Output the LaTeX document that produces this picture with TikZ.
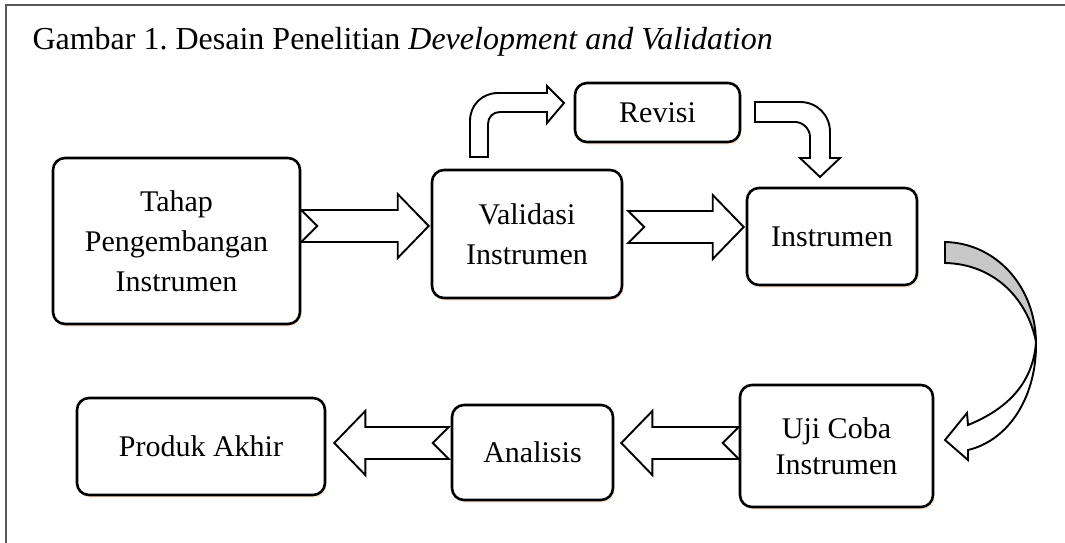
\documentclass[tikz,border=0pt]{standalone}
\usepackage{fontspec}
\setmainfont{Liberation Serif}
\usetikzlibrary{calc,shadows}

\definecolor{abumuda}{RGB}{200,200,200}

% panah blok lurus: #1 ekor (x), #2 ujung (x,y)
\newcommand{\blokpanah}[2]{%
	\draw[panah] let \p1=#1, \p2=#2, \n1={sign(\x2-\x1)} in
	(\x1,\y2+16pt) -- (\x2-\n1*31pt,\y2+16pt) -- (\x2-\n1*31pt,\y2+32pt) -- (\x2,\y2)
	-- (\x2-\n1*31pt,\y2-32pt) -- (\x2-\n1*31pt,\y2-16pt) -- (\x1,\y2-16pt)
	-- (\x1+\n1*16pt,\y2) -- cycle;}

\begin{document}
\begin{tikzpicture}[x=1pt, y=-1pt]
	\tikzstyle{kotak}=[draw=black, line width=2.6pt, rounded corners=12pt, fill=white,
		align=center, inner sep=0pt, font=\fontsize{30}{40}\selectfont,
		drop shadow={shadow xshift=1.5pt, shadow yshift=-2.5pt, fill=orange!35, opacity=.5}]
	\tikzstyle{panah}=[draw=black, line width=1.9pt, fill=white]
	\useasboundingbox[fill=white] (0,0) rectangle (1065,543);
	\draw[line width=1.2pt, black!65] (6,543) -- (6,5) -- (1065,5);
	\node[anchor=base west, font=\fontsize{32}{38}\selectfont] (judul) at (29,50)
		{Gambar 1.\ Desain Penelitian \textit{Development and Validation}};

	\node[kotak, minimum width=247pt, minimum height=166pt] (tahap) at (176.5,241) {Tahap\\Pengembangan\\Instrumen};
	\node[kotak, minimum width=190pt, minimum height=128pt] (valid) at (527,234) {Validasi\\Instrumen};
	\node[kotak, minimum width=165pt, minimum height=59pt]  (revisi) at (657.5,112.5) {Revisi};
	\node[kotak, minimum width=170pt, minimum height=97pt]  (ins) at (832,236.5) {Instrumen};
	\node[kotak, minimum width=193pt, minimum height=122pt, font=\fontsize{30}{36}\selectfont] (uji) at (836.5,446) {Uji Coba\\Instrumen};
	\node[kotak, minimum width=161pt, minimum height=95pt]  (ana) at (532.5,452.5) {Analisis};
	\node[kotak, minimum width=248pt, minimum height=97pt]  (prod) at (201,446.5) {Produk Akhir};

	\blokpanah{(tahap.east)}{($(valid.west)+(-2,-8)$)}
	\blokpanah{($(valid.east)+(5,0)$)}{($(ins.west)+(-2,-9.5)$)}
	\blokpanah{(uji.west)}{($(ana.east)+(7,-9.5)$)}
	\blokpanah{($(ana.west)+(-2,0)$)}{($(prod.east)+(8,-3.5)$)}

	% ke revisi dan kembali
	\draw[panah] (470,157) -- (470,121) .. controls (470,105) and (482,93) .. (498,93)
		-- (547,93) -- (547,86) -- (564,103) -- (547,123) -- (547,112) -- (500,112)
		.. controls (493,112) and (488,117) .. (488,124) -- (488,157) -- cycle;
	\draw[panah] (755,102) -- (800,102) .. controls (817,102) and (830,115) .. (830,132)
		-- (830,158) -- (840,158) -- (820,177) -- (800,158) -- (810,158) -- (810,137)
		.. controls (810,129) and (803,122) .. (795,122) -- (755,122) -- cycle;

	% panah lengkung ke uji coba
	\draw[panah, fill=abumuda] (945,242) .. controls (995,243) and (1035,285) .. (1036,342)
		.. controls (1028,300) and (995,264) .. (945,263) -- cycle;
	\draw[panah] (1036,342) .. controls (1037,395) and (1010,440) .. (968,450) -- (968,460)
		-- (945,440) -- (967,413) -- (968,425) .. controls (1005,410) and (1033,385) .. (1036,342) -- cycle;
\end{tikzpicture}
\end{document}
